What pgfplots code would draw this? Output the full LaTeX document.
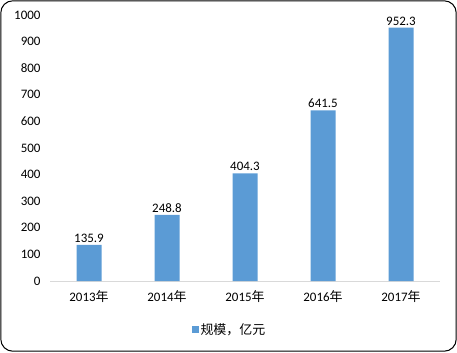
\documentclass[border=0pt]{standalone}
\usepackage{pgfplots}
\pgfplotsset{compat=1.18}
\usepackage{fontspec}
\setmainfont{Carlito}
\newfontfamily\cjk{Noto Sans CJK SC}
\definecolor{barblue}{HTML}{5B9BD5}
\definecolor{axgray}{HTML}{D9D9D9}
\begin{document}
\begin{tikzpicture}[x=1bp,y=1bp]
\path[use as bounding box] (0,0) rectangle (457,352);
\draw[black, line width=1bp, rounded corners=12bp] (0.8,0.8) rectangle (456.2,351.2);
\begin{axis}[
  at={(50bp,71bp)}, anchor=south west,
  scale only axis, width=390bp, height=266bp,
  xmin=-0.5, xmax=4.5, ymin=0, ymax=1000,
  xtick={0,1,2,3,4},
  xticklabels={2013{\cjk 年},2014{\cjk 年},2015{\cjk 年},2016{\cjk 年},2017{\cjk 年}},
  ytick={0,100,...,1000},
  yticklabel style={/pgf/number format/1000 sep={}, xshift=-6bp},
  axis x line*=bottom, axis y line*=left,
  x axis line style={axgray, line width=1bp, -},
  y axis line style={draw=none},
  major tick length=0pt,
  tick label style={font=\fontsize{13}{15}\selectfont, text=black},
  xticklabel style={yshift=-6bp},
  /pgf/number format/assume math mode=true,
  ybar, bar width=25bp,
  nodes near coords,
  nodes near coords style={font=\fontsize{13}{15}\selectfont, yshift=-1bp,
    /pgf/number format/.cd, fixed, fixed zerofill, precision=1},
  legend style={at={(axis description cs:0.46,-0.184)}, anchor=center, draw=none,
    font=\fontsize{13}{15}\selectfont\cjk, legend columns=1},
  legend image code/.code={\fill[barblue] (0bp,-3.5bp) rectangle (7bp,3.5bp);},
  clip=false,
]
\addplot[fill=barblue, draw=none] coordinates {(0,135.9) (1,248.8) (2,404.3) (3,641.5) (4,952.3)};
\addlegendentry{规模，亿元}
\end{axis}
\end{tikzpicture}
\end{document}
